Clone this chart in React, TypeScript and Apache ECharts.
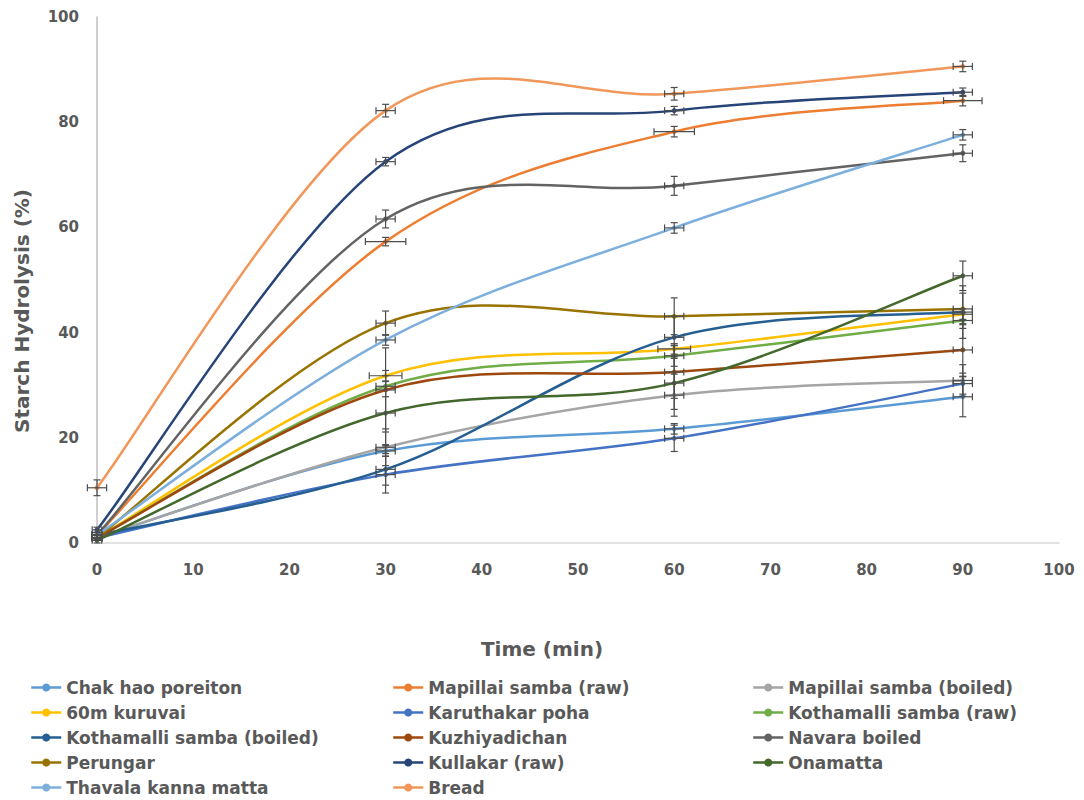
import React, { useEffect, useRef } from "react";
import * as echarts from "echarts";

// ---- data ----
const TIME_MIN = [0, 30, 60, 90];

const chakHaoPoreiton = [1.0, 17.5, 21.7, 27.8];
const mapillaiSambaRaw = [1.5, 57.3, 78.2, 84.1];
const mapillaiSambaBoiled = [1.0, 18.2, 28.1, 30.9];
const kuruvai60m = [1.0, 31.8, 36.9, 43.5];
const karuthakarPoha = [1.0, 13.0, 19.9, 30.3];
const kothamalliSambaRaw = [1.0, 29.8, 35.6, 42.3];
const kothamalliSambaBoiled = [1.5, 14.0, 39.1, 43.9];
const kuzhiyadichan = [1.0, 29.1, 32.5, 36.7];
const navaraBoiled = [1.5, 61.6, 67.9, 74.1];
const perungar = [1.0, 41.8, 43.1, 44.5];
const kullakarRaw = [2.5, 72.5, 82.2, 85.7];
const onamatta = [0.5, 24.7, 30.4, 50.8];
const thavalaKannaMatta = [1.5, 38.6, 59.9, 77.6];
const bread = [10.5, 82.2, 85.4, 90.6];

const SERIES_NAMES = [
  "Chak hao poreiton",
  "Mapillai samba (raw)",
  "Mapillai samba (boiled)",
  "60m kuruvai",
  "Karuthakar poha",
  "Kothamalli samba (raw)",
  "Kothamalli samba (boiled)",
  "Kuzhiyadichan",
  "Navara boiled",
  "Perungar",
  "Kullakar (raw)",
  "Onamatta",
  "Thavala kanna matta",
  "Bread",
];

const SERIES_VALUES = [
  chakHaoPoreiton,
  mapillaiSambaRaw,
  mapillaiSambaBoiled,
  kuruvai60m,
  karuthakarPoha,
  kothamalliSambaRaw,
  kothamalliSambaBoiled,
  kuzhiyadichan,
  navaraBoiled,
  perungar,
  kullakarRaw,
  onamatta,
  thavalaKannaMatta,
  bread,
];

// standard deviations (y: % hydrolysis, x: min)
const Y_ERRORS = [
  [0.5, 1.0, 1.0, 3.8],
  [0.5, 0.8, 1.0, 1.0],
  [0.5, 3.5, 4.0, 3.0],
  [0.5, 1.0, 1.0, 1.0],
  [0.5, 3.5, 2.5, 2.0],
  [0.5, 2.0, 2.0, 1.5],
  [0.5, 3.0, 4.0, 5.0],
  [0.5, 8.0, 5.0, 5.0],
  [0.5, 1.7, 1.8, 1.6],
  [0.5, 2.3, 3.5, 3.0],
  [0.5, 0.8, 0.8, 0.8],
  [0.5, 6.0, 5.0, 2.8],
  [0.5, 1.0, 1.0, 1.0],
  [1.5, 1.2, 1.2, 1.0],
];
const X_ERRORS = [
  [0.5, 1.0, 1.0, 1.0],
  [0.5, 2.1, 2.1, 2.0],
  [0.5, 1.0, 1.0, 1.0],
  [0.5, 1.7, 1.7, 1.0],
  [0.5, 1.0, 1.0, 1.0],
  [0.5, 1.0, 1.0, 1.0],
  [0.5, 1.0, 1.0, 1.0],
  [0.5, 1.0, 1.0, 1.0],
  [0.5, 1.0, 1.0, 1.0],
  [0.5, 1.0, 1.0, 1.0],
  [0.5, 1.0, 1.0, 1.0],
  [0.5, 1.0, 1.0, 1.0],
  [0.5, 1.0, 1.0, 1.0],
  [1.0, 1.0, 1.0, 1.0],
];

const LEGEND_COLUMNS = [
  ["Chak hao poreiton", "60m kuruvai", "Kothamalli samba (boiled)", "Perungar", "Thavala kanna matta"],
  ["Mapillai samba (raw)", "Karuthakar poha", "Kuzhiyadichan", "Kullakar (raw)", "Bread"],
  ["Mapillai samba (boiled)", "Kothamalli samba (raw)", "Navara boiled", "Onamatta"],
];

const X_TITLE = "Time (min)";
const Y_TITLE = "Starch Hydrolysis (%)";

// ---- styles ----
const COLORS = [
  "#5B9BD5",
  "#ED7D31",
  "#A5A5A5",
  "#FFC000",
  "#4472C4",
  "#70AD47",
  "#255E91",
  "#9E480E",
  "#636363",
  "#997300",
  "#264478",
  "#43682B",
  "#7CAFDD",
  "#F1975A",
];
const FONT = "'DejaVu Sans', 'Liberation Sans', sans-serif";
const TEXT_COLOR = "#595959";
const LEGEND_LEFTS = [30, 392, 752];

function buildOption() {
  const series: any[] = [];

  // smoothed curves (Excel-style cardinal spline through the data points)
  SERIES_VALUES.forEach((vals, si) => {
    const n = vals.length;
    series.push({
      type: "custom",
      name: SERIES_NAMES[si] + " curve",
      data: vals.map((v, i) => [TIME_MIN[i], v]),
      encode: { x: 0, y: 1 },
      z: 2,
      silent: true,
      renderItem: (params: any, api: any) => {
        const i = params.dataIndex;
        if (i >= n - 1) return { type: "group", children: [] };
        const pt = (k: number) => {
          const kk = Math.max(0, Math.min(n - 1, k));
          return api.coord([TIME_MIN[kk], vals[kk]]);
        };
        const p0 = pt(i - 1);
        const p1 = pt(i);
        const p2 = pt(i + 1);
        const p3 = pt(i + 2);
        return {
          type: "bezierCurve",
          shape: {
            x1: p1[0],
            y1: p1[1],
            x2: p2[0],
            y2: p2[1],
            cpx1: p1[0] + (p2[0] - p0[0]) / 6,
            cpy1: p1[1] + (p2[1] - p0[1]) / 6,
            cpx2: p2[0] - (p3[0] - p1[0]) / 6,
            cpy2: p2[1] - (p3[1] - p1[1]) / 6,
          },
          style: { stroke: COLORS[si], lineWidth: 2.5, fill: "none" },
        };
      },
    });
  });

  // markers (also provide legend entries)
  SERIES_VALUES.forEach((vals, si) => {
    series.push({
      type: "line",
      name: SERIES_NAMES[si],
      data: vals.map((v, i) => [TIME_MIN[i], v]),
      symbol: "circle",
      symbolSize: 5,
      showSymbol: true,
      lineStyle: { width: 2.5, color: COLORS[si], opacity: 0 },
      itemStyle: { color: COLORS[si] },
      z: 3,
      silent: true,
    });
  });

  // error bars
  const errData: number[][] = [];
  SERIES_VALUES.forEach((vals, si) => {
    vals.forEach((v, i) => {
      errData.push([TIME_MIN[i], v, X_ERRORS[si][i], Y_ERRORS[si][i]]);
    });
  });
  series.push({
    type: "custom",
    name: "error bars",
    data: errData,
    encode: { x: 0, y: 1 },
    z: 4,
    silent: true,
    renderItem: (_params: any, api: any) => {
      const x = api.value(0);
      const y = api.value(1);
      const xe = api.value(2);
      const ye = api.value(3);
      const top = api.coord([x, y + ye]);
      const bot = api.coord([x, y - ye]);
      const lft = api.coord([x - xe, y]);
      const rgt = api.coord([x + xe, y]);
      const cap = 3.5;
      const st = { stroke: "#4D4D4D", lineWidth: 1.2 };
      const ln = (x1: number, y1: number, x2: number, y2: number) => ({
        type: "line",
        shape: { x1, y1, x2, y2 },
        style: st,
      });
      return {
        type: "group",
        children: [
          ln(top[0], top[1], bot[0], bot[1]),
          ln(top[0] - cap, top[1], top[0] + cap, top[1]),
          ln(bot[0] - cap, bot[1], bot[0] + cap, bot[1]),
          ln(lft[0], lft[1], rgt[0], rgt[1]),
          ln(lft[0], lft[1] - cap, lft[0], lft[1] + cap),
          ln(rgt[0], rgt[1] - cap, rgt[0], rgt[1] + cap),
        ],
      };
    },
  });

  const labelStyle = {
    fontFamily: FONT,
    fontSize: 15,
    fontWeight: "bold",
    color: TEXT_COLOR,
  };

  const legends = LEGEND_COLUMNS.map((col, ci) => ({
    orient: "vertical",
    left: LEGEND_LEFTS[ci],
    top: 679,
    padding: 0,
    itemWidth: 30,
    itemHeight: 10,
    itemGap: 8,
    selectedMode: false,
    data: col.map((n) => ({ name: n })),
    lineStyle: { opacity: 1, width: 2.5 },
    textStyle: {
      fontFamily: FONT,
      fontSize: 17,
      fontWeight: "bold",
      color: TEXT_COLOR,
    },
  }));

  return {
    animation: false,
    backgroundColor: "#FFFFFF",
    grid: { left: 97, right: 25, top: 17, bottom: 257, containLabel: false },
    legend: legends,
    graphic: [
      {
        type: "text",
        x: 542,
        y: 649,
        silent: true,
        style: {
          text: X_TITLE,
          fontFamily: FONT,
          fontSize: 20,
          fontWeight: "bold",
          fill: TEXT_COLOR,
          align: "center",
          verticalAlign: "middle",
        },
      },
      {
        type: "text",
        x: 22,
        y: 311,
        rotation: Math.PI / 2,
        silent: true,
        style: {
          text: Y_TITLE,
          fontFamily: FONT,
          fontSize: 20,
          fontWeight: "bold",
          fill: TEXT_COLOR,
          align: "center",
          verticalAlign: "middle",
        },
      },
    ],
    xAxis: {
      type: "value",
      min: 0,
      max: 100,
      interval: 10,
      axisLine: { show: true, lineStyle: { color: "#D9D9D9", width: 1.5 } },
      axisTick: { show: false },
      splitLine: { show: false },
      axisLabel: { ...labelStyle, margin: 19 },
    },
    yAxis: {
      type: "value",
      min: 0,
      max: 100,
      interval: 20,
      axisLine: { show: true, lineStyle: { color: "#BFBFBF", width: 1.5 } },
      axisTick: { show: false },
      splitLine: { show: false },
      axisLabel: { ...labelStyle, margin: 18 },
    },
    series,
  };
}

export default function App() {
  const ref = useRef<HTMLDivElement>(null);
  useEffect(() => {
    document.body.style.margin = "0";
    if (!ref.current) return;
    const chart = echarts.init(ref.current, undefined, { renderer: "svg" });
    chart.setOption(buildOption() as any);
    return () => chart.dispose();
  }, []);
  return <div ref={ref} style={{ width: 1084, height: 800 }} />;
}
